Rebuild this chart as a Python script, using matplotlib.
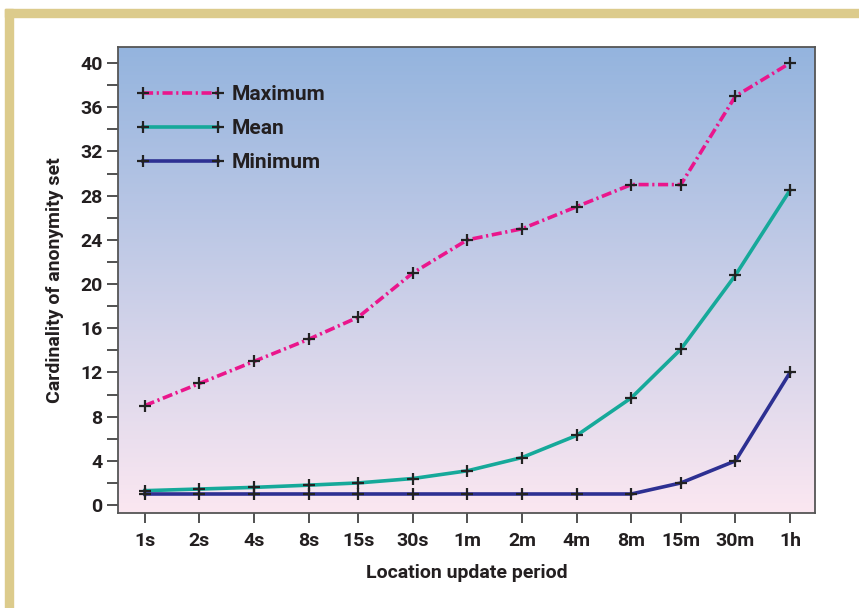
import numpy as np
import matplotlib
matplotlib.use("Agg")
import matplotlib.pyplot as plt
from matplotlib.patches import Rectangle
from matplotlib.ticker import FixedLocator, MultipleLocator, NullFormatter

plt.rcParams['font.family'] = ['Roboto', 'DejaVu Sans']
plt.rcParams['font.weight'] = 'bold'

# update periods (seconds) and their labels
periods = [1, 2, 4, 8, 15, 30, 60, 120, 240, 480, 900, 1800, 3600]
period_labels = ['1s', '2s', '4s', '8s', '15s', '30s', '1m', '2m', '4m', '8m', '15m', '30m', '1h']

# cardinality of anonymity set
maximum = [9, 11, 13, 15, 17, 21, 24, 25, 27, 29, 29, 37, 40]
mean = [1.3, 1.45, 1.6, 1.8, 2.0, 2.4, 3.1, 4.3, 6.3, 9.7, 14.1, 20.8, 28.5]
minimum = [1, 1, 1, 1, 1, 1, 1, 1, 1, 1, 2, 4, 12]

fig = plt.figure(figsize=(8.59, 6.08), dpi=100)
fig.patch.set_facecolor('white')

# tan frame on top and left
tan = '#dccb8c'
fig.patches.append(Rectangle((5/859, 1-17/608), 1, 8/608, transform=fig.transFigure,
                             color=tan, zorder=0))
fig.patches.append(Rectangle((5/859, 0), 8/859, 1-9/608, transform=fig.transFigure,
                             color=tan, zorder=0))

ax = fig.add_axes([118/859, 1-513/608, 697/859, 466/608])

# blue-to-pink background gradient
top = np.array([148, 180, 222]) / 255
bot = np.array([251, 231, 241]) / 255
t = np.linspace(0, 1, 256)[:, None]
grad = (top * (1 - t) + bot * t)[:, None, :]
ax.imshow(grad, extent=[0, 1, 0, 1], transform=ax.transAxes, aspect='auto', zorder=0)

mk = dict(marker='+', markersize=9, markeredgewidth=1.6, markeredgecolor='#222222')
ax.plot(periods, maximum, color='#ea168c', lw=2.6, dashes=(2.8, 1.0, 0.6, 1.0),
        label='Maximum', zorder=3, **mk)
ax.plot(periods, mean, color='#16a99a', lw=2.6, label='Mean', zorder=3, **mk)
ax.plot(periods, minimum, color='#2d3092', lw=2.6, label='Minimum', zorder=3, **mk)

ax.set_xscale('log', base=2)
ax.set_xlim(2 ** -0.49, 2 ** 12.27)
ax.set_ylim(-0.72, 41.45)

ax.xaxis.set_major_locator(FixedLocator(periods))
ax.set_xticklabels(period_labels)
ax.xaxis.set_minor_locator(FixedLocator([]))
ax.xaxis.set_minor_formatter(NullFormatter())
ax.yaxis.set_major_locator(MultipleLocator(4))
ax.yaxis.set_minor_locator(MultipleLocator(2))

ax.tick_params(axis='both', which='both', direction='out', color='#333333', width=1.2)
ax.tick_params(axis='y', which='both', length=8, pad=3, labelsize=14, labelcolor='#231f20')
ax.tick_params(axis='x', which='both', length=7.5, pad=6, labelsize=14, labelcolor='#231f20')
for s in ax.spines.values():
    s.set_color('#555555')
    s.set_linewidth(1.3)

ax.set_xlabel('Location update period', fontsize=14, fontweight='bold',
              color='#231f20', labelpad=10)
ax.set_ylabel('Cardinality of anonymity set', fontsize=14, fontweight='bold',
              color='#231f20', labelpad=12)

leg = ax.legend(loc='upper left', bbox_to_anchor=(0.012, 0.94), frameon=False,
                numpoints=2, handlelength=4.2, handletextpad=0.35, labelspacing=0.72,
                borderpad=0, prop={'size': 15, 'weight': 'bold'})
for txt in leg.get_texts():
    txt.set_color('#231f20')

fig.savefig('out.png', dpi=100, facecolor='white')
